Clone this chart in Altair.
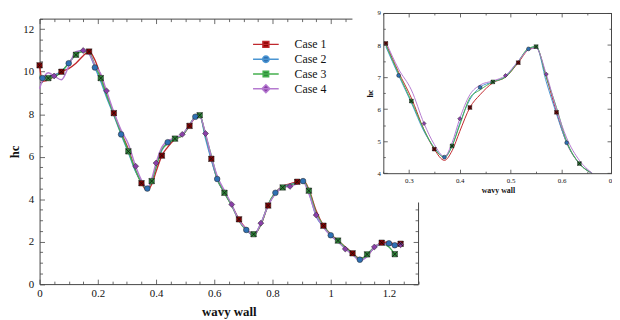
import altair as alt
import pandas as pd

cases = ["Case 1", "Case 2", "Case 3", "Case 4"]

x_grid = [0, 0.01, 0.03, 0.05, 0.075, 0.1, 0.125, 0.15, 0.17, 0.19,
          0.21, 0.23, 0.255, 0.28, 0.305, 0.33, 0.35, 0.37, 0.385, 0.4,
          0.42, 0.44, 0.465, 0.49, 0.515, 0.535, 0.55, 0.57, 0.59, 0.61,
          0.635, 0.66, 0.685, 0.71, 0.735, 0.76, 0.785, 0.81, 0.835, 0.86,
          0.885, 0.905, 0.925, 0.95, 0.975, 1.0, 1.025, 1.05, 1.075, 1.1,
          1.125, 1.15, 1.175, 1.2, 1.22, 1.24]

hc_case1 = [10.3, 9.55, 9.6, 9.8, 10.0, 10.15, 10.4, 10.75, 10.95, 10.55,
            9.8, 8.95, 8.05, 7.15, 6.35, 5.35, 4.75, 4.4, 4.7, 5.3,
            6.05, 6.45, 6.82, 7.0, 7.45, 7.85, 7.92, 7.0, 5.9, 4.95,
            4.3, 3.7, 3.05, 2.6, 2.3, 2.8, 3.7, 4.3, 4.6, 4.72,
            4.82, 4.9, 4.45, 3.45, 2.75, 2.35, 2.05, 1.75, 1.45, 1.2,
            1.35, 1.72, 1.95, 1.98, 1.88, 1.9]
hc_case2 = [9.75, 9.7, 9.75, 9.85, 10.0, 10.4, 10.85, 11.0, 10.85, 10.2,
            9.55, 8.8, 7.95, 7.05, 6.2, 5.3, 4.8, 4.5, 4.85, 5.55,
            6.3, 6.68, 6.85, 7.02, 7.5, 7.88, 7.95, 6.85, 5.85, 4.95,
            4.3, 3.7, 3.0, 2.55, 2.3, 2.85, 3.7, 4.3, 4.58, 4.68,
            4.78, 4.85, 4.3, 3.2, 2.7, 2.3, 2.0, 1.7, 1.4, 1.15,
            1.35, 1.72, 1.9, 1.92, 1.83]
hc_case3 = [9.8, 9.75, 9.7, 9.75, 10.0, 10.4, 10.8, 10.95, 10.9, 10.3,
            9.7, 8.9, 8.0, 7.1, 6.25, 5.35, 4.78, 4.5, 4.85, 5.5,
            6.35, 6.6, 6.85, 7.0, 7.48, 7.9, 7.95, 7.0, 6.05, 5.0,
            4.3, 3.7, 2.98, 2.55, 2.35, 2.8, 3.75, 4.3, 4.55, 4.65,
            4.78, 4.85, 4.4, 3.35, 2.75, 2.3, 2.05, 1.72, 1.45, 1.15,
            1.4, 1.75, 1.9, 1.75, 1.41]
hc_case4 = [9.2, 9.6, 9.95, 9.8, 9.62, 10.25, 10.95, 11.0, 10.85, 10.3,
            9.9, 9.1, 8.1, 7.25, 6.6, 5.55, 4.9, 4.52, 4.95, 5.7,
            6.45, 6.75, 6.88, 7.05, 7.5, 7.85, 7.9, 7.09, 6.0, 5.1,
            4.4, 3.75, 3.0, 2.6, 2.3, 2.87, 3.7, 4.25, 4.55, 4.6,
            4.72, 4.8, 4.25, 3.25, 2.67, 2.28, 2.0, 1.65, 1.4, 1.1,
            1.3, 1.75, 1.9, 1.85, 1.82, 1.85]

series = [hc_case1, hc_case2, hc_case3, hc_case4]

line_colors = ["#c0282d", "#4a95d2", "#45b04f", "#b57ad0"]
marker_fill = ["#8b0000", "#2f70b3", "#2e8b3a", "#8a3fa8"]
legend_paths = [
    "M-2.6,0H2.6M-0.6,-0.6H0.6V0.6H-0.6Z",
    "M-2.6,0H2.6M0.65,0A0.65,0.65 0 1,1 -0.65,0A0.65,0.65 0 1,1 0.65,0Z",
    "M-2.6,0H2.6M-0.55,-0.55H0.55V0.55H-0.55Z",
    "M-2.6,0H2.6M0,-0.8L0.8,0L0,0.8L-0.8,0Z",
]
X_PATH = "M-1,-1L1,1M-1,1L1,-1"

rows = []
for k, (case, ys) in enumerate(zip(cases, series)):
    n = len(ys)
    for i, (xv, yv) in enumerate(zip(x_grid[:n], ys)):
        rows.append({"x": xv, "y": yv, "case": case,
                     "mark": bool(i % 4 == k or i == n - 1)})
df = pd.DataFrame(rows)

FONT = "Liberation Serif"
W, H = 612, 312
AX = "#444"
LAB = "#111"

# main plot frame (group pixel coordinates)
MX = [32, 415.5]
MY = [277.7, 8.7]
# inset frame
IX = [380.3, 612.5]
IY = [165.3, 3.0]

x_major = [0, 0.2, 0.4, 0.6, 0.8, 1.0, 1.2]
x_minor = [round(i * 0.05, 2) for i in range(27)]
y_major = [0, 2, 4, 6, 8, 10, 12]
y_minor = [i * 0.5 for i in range(26)]
ix_major = [0.3, 0.4, 0.5, 0.6, 0.7]
ix_minor = [round(0.25 + i * 0.05, 2) for i in range(10)]
iy_major = [4, 5, 6, 7, 8, 9]
iy_minor = [4 + i * 0.5 for i in range(11)]

x_cond = {"condition": {"test": "abs(datum.value*5 - round(datum.value*5)) < 0.001", "value": 5}, "value": 3}
y_cond = {"condition": {"test": "abs(datum.value/2 - round(datum.value/2)) < 0.001", "value": 5}, "value": 3}
ix_cond = {"condition": {"test": "abs(datum.value*10 - round(datum.value*10)) < 0.001", "value": 4}, "value": 2}
iy_cond = {"condition": {"test": "abs(datum.value - round(datum.value)) < 0.001", "value": 4}, "value": 2}

LEG = alt.Legend(title=None, orient="none", legendX=255.3, legendY=28.8,
                 labelFont=FONT, labelFontSize=12, labelColor=LAB,
                 symbolSize=100, symbolStrokeWidth=1.5, labelOffset=23,
                 rowPadding=2, padding=0)

stroke_scale = alt.Scale(domain=cases, range=line_colors)
fill_scale = alt.Scale(domain=cases, range=marker_fill)


def tick_axis(orient, offset, values, cond, domain, z=0):
    return alt.Axis(orient=orient, offset=offset, values=values, labels=False,
                    domain=domain, domainColor=AX, domainWidth=1, ticks=True,
                    tickSize=cond, tickColor=AX, tickWidth=0.8, title=None,
                    grid=False, zindex=z)


def build(xs, ys, axes, lw, msize, xsize, with_legend, filt=None, pfilt=None):
    (ax1x, ax1y), (ax2x, ax2y), (ax3x, ax3y) = axes
    base = alt.Chart(df)
    lines_src = base.transform_filter(filt) if filt else base
    lines = lines_src.mark_line(interpolate="monotone", strokeWidth=lw).encode(
        x=alt.X("x:Q", scale=xs, axis=ax1x),
        y=alt.Y("y:Q", scale=ys, axis=ax1y),
        stroke=alt.Stroke("case:N", scale=stroke_scale, legend=LEG),
        detail="case:N",
    )
    pf = "datum.mark" + (" && " + pfilt if pfilt else "")
    layers = [lines]
    groups = [("square", "(datum.case == 'Case 1' || datum.case == 'Case 3')", msize, (ax2x, ax2y)),
              ("circle", "datum.case == 'Case 2'", msize * 1.1, (None, None)),
              ("diamond", "datum.case == 'Case 4'", msize * 1.2, (None, None))]
    for shp, test, sz, (axx, axy) in groups:
        layers.append(base.transform_filter(pf + " && " + test).mark_point(
            shape=shp, filled=True, size=sz, stroke="#222", strokeWidth=0.5, opacity=1
        ).encode(
            x=alt.X("x:Q", scale=xs, axis=axx),
            y=alt.Y("y:Q", scale=ys, axis=axy),
            fill=alt.Fill("case:N", scale=fill_scale, legend=LEG),
        ))
    layers.append(base.transform_filter(pf + " && (datum.case == 'Case 1' || datum.case == 'Case 3')").mark_point(
        shape=X_PATH, filled=False, size=xsize, stroke="#111", strokeWidth=0.8, opacity=1
    ).encode(
        x=alt.X("x:Q", scale=xs, axis=ax3x),
        y=alt.Y("y:Q", scale=ys, axis=ax3y),
    ))
    if with_legend:
        layers.append(base.transform_filter("false").mark_point(
            filled=True, size=100, strokeWidth=1.5, opacity=1
        ).encode(
            x=alt.X("x:Q", scale=xs, axis=None),
            y=alt.Y("y:Q", scale=ys, axis=None),
            shape=alt.Shape("case:N", scale=alt.Scale(domain=cases, range=legend_paths), legend=LEG),
            fill=alt.Fill("case:N", scale=fill_scale, legend=LEG),
            stroke=alt.Stroke("case:N", scale=stroke_scale, legend=LEG),
        ))
    return alt.layer(*layers).resolve_axis(x="independent", y="independent")


# ---------- main chart ----------
xs_main = alt.Scale(domain=[0, 1.3], range=MX, nice=False, zero=False)
ys_main = alt.Scale(domain=[0, 12.5], range=MY, nice=False, zero=False)

main_x_lab = alt.Axis(orient="bottom", offset=MY[0] - H, values=x_major, format="~g",
                      ticks=False, domain=True, domainColor=AX, domainWidth=1,
                      labelFont=FONT, labelFontSize=11, labelColor=LAB, labelPadding=4,
                      labelFlush=False, labelOverlap=False, labelBound=False,
                      title="wavy wall", titleFont=FONT, titleFontSize=13,
                      titleFontWeight="bold", titleColor=LAB,
                      titleX=(MX[0] + MX[1]) / 2, titleY=27.6, titleBaseline="middle",
                      grid=False)
main_y_lab = alt.Axis(orient="left", offset=-MX[0], values=y_major, format="~g",
                      ticks=False, domain=True, domainColor=AX, domainWidth=1,
                      labelFont=FONT, labelFontSize=11, labelColor=LAB, labelPadding=6,
                      labelFlush=False, labelOverlap=False, labelBound=False,
                      title="hc", titleFont=FONT, titleFontSize=13,
                      titleFontWeight="bold", titleColor=LAB, titleAngle=270,
                      titleX=7 - MX[0], titleY=(MY[0] + MY[1]) / 2, titleBaseline="middle",
                      grid=False)
main_axes = [
    (main_x_lab, main_y_lab),
    (tick_axis("top", -MY[0], x_minor, x_cond, False),
     tick_axis("right", MX[0] - W, y_minor, y_cond, False)),
    (tick_axis("bottom", MY[1] - H, x_minor, x_cond, True),
     tick_axis("left", -MX[1], y_minor, y_cond, True)),
]

main = build(xs_main, ys_main, main_axes, 1.4, 30, 30, True)

# ---------- inset background ----------
bg = alt.Chart(pd.DataFrame({"a": [0]})).mark_rect(fill="white", strokeWidth=0).encode(
    x=alt.value(349), x2=alt.value(W), y=alt.value(0), y2=alt.value(195)
)

# ---------- inset ----------
xs_in = alt.Scale(domain=[0.25, 0.7], range=IX, nice=False, zero=False, clamp=True)
ys_in = alt.Scale(domain=[4, 9], range=IY, nice=False, zero=False, clamp=True)

in_x_lab = alt.Axis(orient="bottom", offset=IY[0] - H, values=ix_major, format="~g",
                    ticks=False, domain=True, domainColor=AX, domainWidth=1,
                    labelFont=FONT, labelFontSize=7, labelColor=LAB, labelPadding=3,
                    labelFlush=False, labelOverlap=False, labelBound=False,
                    title="wavy wall", titleFont=FONT, titleFontSize=8,
                    titleFontWeight="bold", titleColor=LAB,
                    titleX=(IX[0] + IX[1]) / 2, titleY=17.4, titleBaseline="middle",
                    grid=False, zindex=1)
in_y_lab = alt.Axis(orient="left", offset=-IX[0], values=iy_major, format="~g",
                    ticks=False, domain=True, domainColor=AX, domainWidth=1,
                    labelFont=FONT, labelFontSize=7, labelColor=LAB, labelPadding=3,
                    labelFlush=False, labelOverlap=False, labelBound=False,
                    title="hc", titleFont=FONT, titleFontSize=8,
                    titleFontWeight="bold", titleColor=LAB, titleAngle=270,
                    titleX=367 - IX[0], titleY=(IY[0] + IY[1]) / 2, titleBaseline="middle",
                    grid=False, zindex=1)
in_axes = [
    (in_x_lab, in_y_lab),
    (tick_axis("top", -IY[0], ix_minor, ix_cond, False, 1),
     tick_axis("right", IX[0] - W, iy_minor, iy_cond, False, 1)),
    (tick_axis("bottom", IY[1] - H, ix_minor, ix_cond, True, 1),
     tick_axis("left", -(W - 1), iy_minor, iy_cond, True, 1)),
]

inset = build(xs_in, ys_in, in_axes, 1.0, 14, 14, False,
              filt="datum.x >= 0.25 && datum.x <= 0.66",
              pfilt="datum.x >= 0.25 && datum.x <= 0.645")

chart = alt.layer(main, bg, inset).resolve_scale(
    x="independent", y="independent"
).resolve_axis(
    x="independent", y="independent"
).properties(
    width=W, height=H, autosize="none", padding=0
).configure_view(strokeWidth=0)

chart.save("out.html", embed_options={"renderer": "svg", "actions": False})
